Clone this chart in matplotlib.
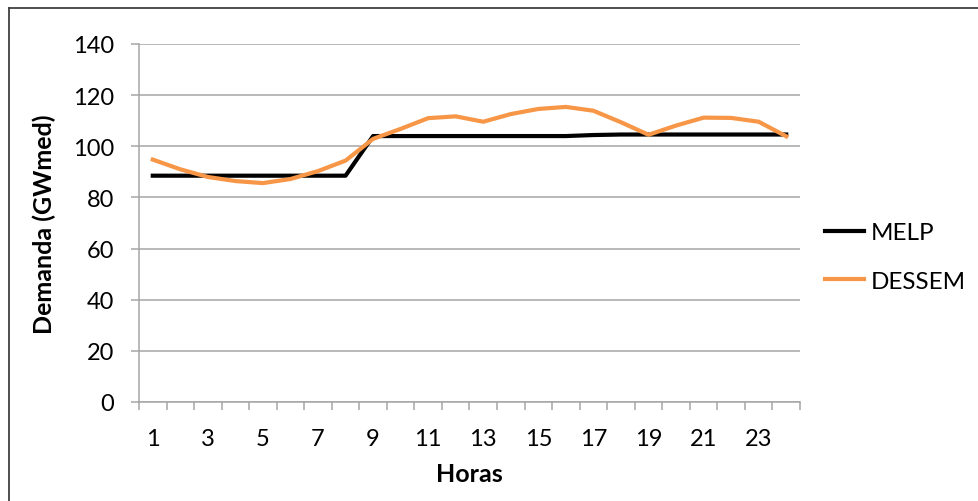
import matplotlib
matplotlib.use("Agg")
import matplotlib.pyplot as plt
from matplotlib.lines import Line2D
from matplotlib.ticker import FixedLocator

plt.rcParams["font.family"] = ["Lato", "DejaVu Sans"]

# ── data ──────────────────────────────────────────────────────────────────
horas = list(range(1, 25))
melp = [88.5, 88.5, 88.5, 88.5, 88.5, 88.5, 88.5, 88.5,
        104.0, 104.0, 104.0, 104.0, 104.0, 104.0, 104.0, 104.0,
        104.4, 104.6, 104.6, 104.6, 104.6, 104.6, 104.6, 104.6]
dessem = [94.8, 91.0, 88.0, 86.4, 85.6, 87.2, 90.3, 94.4,
          102.9, 106.8, 111.0, 111.7, 109.6, 112.6, 114.6, 115.4,
          113.9, 109.4, 104.5, 108.1, 111.2, 111.1, 109.6, 103.9]
y_ticks = [0, 20, 40, 60, 80, 100, 120, 140]
x_labels = [1, 3, 5, 7, 9, 11, 13, 15, 17, 19, 21, 23]

W, H = 979, 502
fig = plt.figure(figsize=(W / 100, H / 100), dpi=100)
ax = fig.add_axes([139 / W, 1 - 403 / H, (800 - 139) / W, (403 - 45) / H])

grid_col = "#a6a6a6"
ax.plot(horas, melp, color="black", lw=3.0, label="MELP", zorder=3)
ax.plot(horas, dessem, color="#f79646", lw=3.0, label="DESSEM", zorder=4)

ax.set_xlim(0.5, 24.5)
ax.set_ylim(0, 140)
ax.set_yticks(y_ticks)
ax.yaxis.grid(True, color=grid_col, lw=1.1)
ax.set_axisbelow(True)

ax.xaxis.set_major_locator(FixedLocator(x_labels))
ax.xaxis.set_minor_locator(FixedLocator([h + 0.5 for h in range(0, 25)]))
ax.tick_params(axis="x", which="major", length=0, pad=19, labelsize=17)
ax.tick_params(axis="x", which="minor", length=6, width=1.1, color=grid_col,
               direction="out")
ax.tick_params(axis="y", length=6, width=1.1, color=grid_col, pad=12,
               labelsize=17)

for side in ("top", "right"):
    ax.spines[side].set_visible(False)
for side in ("left", "bottom"):
    ax.spines[side].set_color(grid_col)
    ax.spines[side].set_linewidth(1.1)

ax.set_xlabel("Horas", fontsize=18, fontweight="bold", labelpad=9)
ax.set_ylabel("Demanda (GWmed)", fontsize=18, fontweight="bold", labelpad=12)

fig.legend(loc="center left", bbox_to_anchor=(825 / W, 1 - 258 / H),
           frameon=False, fontsize=17.5, handlelength=1.6, handletextpad=0.3,
           labelspacing=1.15, borderpad=0, borderaxespad=0)

# outer frame (cropped at right and bottom)
fig.add_artist(Line2D([9 / W, 9 / W], [0, 1 - 9 / H], color="#404040",
                      lw=1.3, transform=fig.transFigure))
fig.add_artist(Line2D([9 / W, 1], [1 - 9 / H, 1 - 9 / H], color="#404040",
                      lw=1.3, transform=fig.transFigure))

fig.savefig("out.png", dpi=100)
